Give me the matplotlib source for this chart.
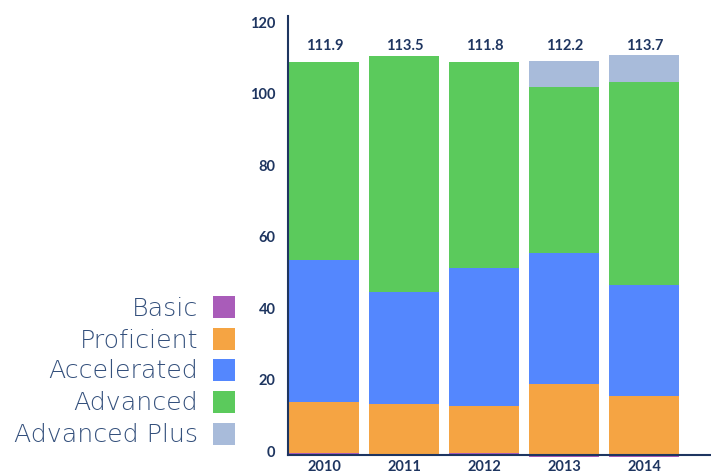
import matplotlib
matplotlib.use("Agg")
import matplotlib.pyplot as plt
from matplotlib.patches import Rectangle
import numpy as np

years = ["2010", "2011", "2012", "2013", "2014"]
series_names = ["Basic", "Proficient", "Accelerated", "Advanced", "Advanced Plus"]
basic = [0.7, 0.0, 0.7, -0.5, -0.5]
proficient = [14.5, 14.6, 13.4, 20.3, 16.9]
accelerated = [40.3, 31.8, 39.2, 37.2, 31.5]
advanced = [56.4, 67.1, 58.5, 47.2, 57.7]
advanced_plus = [0.0, 0.0, 0.0, 7.5, 7.6]
colors = ["#a95cb9", "#f5a443", "#5487fe", "#5bca5c", "#a8bbda"]
y_ticks = [0, 20, 40, 60, 80, 100, 120]

series = [basic, proficient, accelerated, advanced, advanced_plus]

navy = "#1e3560"
slate = "#34507c"

W, H = 711, 474
fig = plt.figure(figsize=(W / 100, H / 100), dpi=100)

# main axes (pixel geometry)
left_px, right_px = 288, 710
top_px, bot_px = 15.5, 459.0
ax = fig.add_axes([left_px / W, 1 - bot_px / H, (right_px - left_px) / W, (bot_px - top_px) / H])
ax.set_ylim(-1, 125)
ax.set_xlim(-0.456, 4.82)

x = np.arange(len(years))
pos_bottom = np.zeros(len(years))
neg_bottom = np.zeros(len(years))
for vals, col in zip(series, colors):
    v = np.array(vals, dtype=float)
    bottoms = np.where(v >= 0, pos_bottom, neg_bottom)
    ax.bar(x, v, bottom=bottoms, width=0.875, color=col, linewidth=0, zorder=2)
    pos_bottom = pos_bottom + np.where(v > 0, v, 0)
    neg_bottom = neg_bottom + np.where(v < 0, v, 0)

totals = pos_bottom
for xi, t in zip(x, totals):
    ax.text(xi, 116.3, f"{t:.1f}", ha="center", va="center", fontsize=10.5,
            fontweight="bold", color=navy, family="Lato", zorder=3)

for s in ["top", "right"]:
    ax.spines[s].set_visible(False)
ax.spines["bottom"].set_position(("data", 0))
ax.spines["left"].set_bounds(0, 125)
for s in ["left", "bottom"]:
    ax.spines[s].set_color(navy)
    ax.spines[s].set_linewidth(1.5)
    ax.spines[s].set_zorder(4)
ax.set_xticks(x)
ax.set_xticklabels(years, fontsize=10.5, fontweight="bold", color=navy, family="Lato")
ax.tick_params(axis="x", length=0, pad=3)
ax.set_yticks([])

# tick label axis on the left
ax2 = ax.twinx()
ax2.set_ylim(-2.10, 121.9)
ax2.yaxis.set_ticks_position("left")
ax2.yaxis.set_label_position("left")
ax2.set_yticks(y_ticks)
ax2.set_yticklabels([str(t) for t in y_ticks], fontsize=10.5, fontweight="bold",
                    color=navy, family="Lato")
ax2.tick_params(axis="y", length=0, pad=9)
for s in ax2.spines.values():
    s.set_visible(False)

# legend on the left
row_centers = [307, 339, 370, 402, 434]
for name, col, yc in zip(series_names, colors, row_centers):
    fig.patches.append(Rectangle((213 / W, 1 - (yc + 11) / H), 22 / W, 22 / H,
                                 transform=fig.transFigure, color=col, linewidth=0))
    fig.text(198 / W, 1 - (yc + 8.5) / H, name, ha="right", va="baseline",
             fontsize=18.2, color=slate, family="DejaVu Sans", fontweight="light")

fig.savefig("out.png", dpi=100)
